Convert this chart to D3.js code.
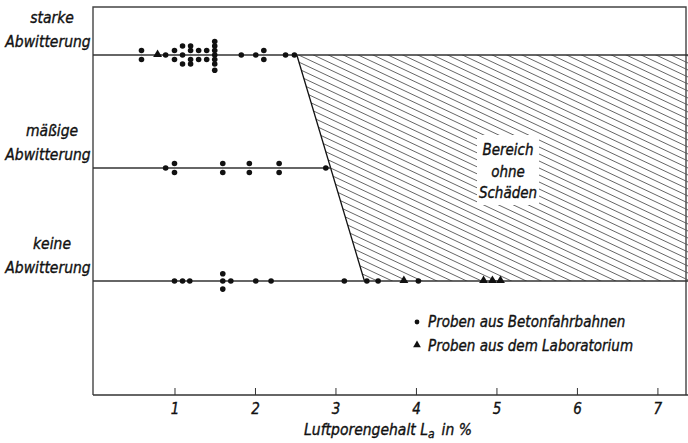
<!DOCTYPE html>
<html>
<head>
<meta charset="utf-8">
<script src="https://cdn.jsdelivr.net/npm/d3@7"></script>
<style>
  body { margin: 0; background: #fff; }
  text { font-family: "DejaVu Sans Condensed", Roboto, sans-serif; font-style: italic; fill: #111; stroke: #111; stroke-width: 0.35px; }
</style>
</head>
<body>
<div id="chart"></div>
<script>
// categories (top to bottom) and label lines
var categories = ["starke", "mäßige", "keine"];
var categoryLabels = [["starke", "Abwitterung"], ["mäßige", "Abwitterung"], ["keine", "Abwitterung"]];

// x ticks
var xTicks = [1, 2, 3, 4, 5, 6, 7];

// samples: [Luftporengehalt, stack levels] -- levels only spread equal values vertically
var starkeRoad = [
    [0.59, [-1, 1]], [0.89, [0]], [1.0, [-1, 1]], [1.1, [-2, 0, 2]],
    [1.2, [-2, -1, 1, 2]], [1.3, [-1, 1]], [1.4, [-1, 1]],
    [1.5, [-3, -2, -1, 0, 1, 2, 3.4]], [1.83, [0]], [2.01, [0]],
    [2.11, [-1, 1]], [2.38, [0]], [2.49, [0]]
];
var starkeLab = [[0.79, [0]]];

var maessigRoad = [
    [0.89, [0]], [1.0, [-1, 1]], [1.6, [-1, 1]], [1.93, [-1, 1]],
    [2.3, [-1, 1]], [2.88, [0]]
];
var maessigLab = [];

var keineRoad = [
    [1.0, [0]], [1.1, [0]], [1.19, [0]], [1.6, [-1.6, 0, 1.8]], [1.7, [0]],
    [2.01, [0]], [2.2, [0]], [3.11, [0]], [3.39, [0]], [3.53, [0]], [4.03, [0]]
];
var keineLab = [[3.85, [0]], [4.84, [0]], [4.95, [0]], [5.05, [0]]];

// boundary of the damage-free region: [x at "starke", x at "keine"]
var boundary = [2.52, 3.36];

var legendItems = ["Proben aus Betonfahrbahnen", "Proben aus dem Laboratorium"];

//-----------------------------------------------------------------------------
var W = 688, H = 443;
var frameTop = 7, frameBottom = 395, frameLeft = 93, frameRight = 686;
var levelStep = 4.5;
var ink = "#111";

var svg = d3.select("#chart").append("svg")
    .attr("width", W)
    .attr("height", H);

var x = d3.scaleLinear().domain([0, 7.38]).range([94, 688]);
var y = d3.scalePoint().domain(categories).range([55, 281]);

// frame
svg.append("path")
    .attr("d", "M" + frameLeft + "," + frameBottom + "V" + frameTop + "H" + frameRight + "V" + frameBottom)
    .attr("fill", "none")
    .attr("stroke", "#444")
    .attr("stroke-width", 1.4);

// bottom axis with short upward ticks
var xAxis = d3.axisBottom(x).tickValues(xTicks).tickSize(0).tickPadding(8)
    .tickFormat(d3.format("d"));
var gx = svg.append("g")
    .attr("transform", "translate(0," + frameBottom + ")")
    .call(xAxis);
gx.select(".domain").remove();
gx.append("line")
    .attr("x1", frameLeft).attr("x2", W)
    .attr("stroke", "#333").attr("stroke-width", 1.5);
gx.selectAll(".tick").append("line")
    .attr("y1", 0).attr("y2", -7)
    .attr("stroke", "#333").attr("stroke-width", 1);
gx.selectAll(".tick text")
    .attr("font-family", "DejaVu Sans Condensed, Roboto, sans-serif")
    .attr("font-style", "italic")
    .attr("font-size", 15)
    .attr("fill", ink);

// axis title with subscript
var title = svg.append("text")
    .attr("x", 388)
    .attr("y", 435)
    .attr("text-anchor", "middle")
    .attr("font-size", 15.5);
title.append("tspan").text("Luftporengehalt L");
title.append("tspan").attr("dy", 3).attr("font-size", 12).text("a");
title.append("tspan").attr("dy", -3).text("\u2002in %");

// hatched region (no damage)
var yTop = y("starke"), yBot = y("keine");
var region = [
    [x(boundary[0]), yTop], [W + 5, yTop], [W + 5, yBot], [x(boundary[1]), yBot]
];
svg.append("clipPath").attr("id", "regionClip")
    .append("polygon")
    .attr("points", region.map(function(p) { return p.join(","); }).join(" "));

var hatch = svg.append("g").attr("clip-path", "url(#regionClip)");
var slope = 0.47, gap = 7;
for (var c = yTop - slope * W - 20; c < yBot + 10; c += gap) {
    hatch.append("line")
        .attr("x1", 250).attr("y1", c + slope * 250)
        .attr("x2", W + 5).attr("y2", c + slope * (W + 5))
        .attr("stroke", "#555")
        .attr("stroke-width", 0.9);
}

// boundary line
svg.append("line")
    .attr("x1", x(boundary[0])).attr("y1", yTop)
    .attr("x2", x(boundary[1])).attr("y2", yBot)
    .attr("stroke", ink).attr("stroke-width", 1.3);

// label box inside the region
svg.append("rect")
    .attr("x", 477).attr("y", 135)
    .attr("width", 62).attr("height", 70)
    .attr("fill", "#fff");
var regionLabel = ["Bereich", "ohne", "Schäden"];
svg.selectAll(".regionLabel")
    .data(regionLabel).enter()
    .append("text")
    .attr("class", "regionLabel")
    .attr("x", 508)
    .attr("y", function(d, i) { return 155 + i * 21.5; })
    .attr("text-anchor", "middle")
    .attr("font-size", 15)
    .text(function(d) { return d; });

// category lines
var lineEnds = { "starke": W, "mäßige": (x(boundary[0]) + x(boundary[1])) / 2, "keine": W };
categories.forEach(function(cat) {
    svg.append("line")
        .attr("x1", frameLeft).attr("x2", lineEnds[cat])
        .attr("y1", y(cat)).attr("y2", y(cat))
        .attr("stroke", "#333").attr("stroke-width", 1.3);
});

// category labels
categories.forEach(function(cat, i) {
    var t = svg.append("text")
        .attr("x", 49)
        .attr("y", y(cat) - 32)
        .attr("text-anchor", "middle")
        .attr("font-size", 15.5);
    t.selectAll("tspan")
        .data(categoryLabels[i]).enter()
        .append("tspan")
        .attr("x", function(d, j) { return j == 0 ? 52 : 48; })
        .attr("dy", function(d, j) { return j == 0 ? 0 : 24; })
        .text(function(d) { return d; });
});

// flatten samples to points
function toPoints(cat, list) {
    var pts = [];
    list.forEach(function(s) {
        s[1].forEach(function(l) { pts.push({ cat: cat, v: s[0], level: l }); });
    });
    return pts;
}
var roadPts = toPoints("starke", starkeRoad)
    .concat(toPoints("mäßige", maessigRoad))
    .concat(toPoints("keine", keineRoad));
var labPts = toPoints("starke", starkeLab)
    .concat(toPoints("mäßige", maessigLab))
    .concat(toPoints("keine", keineLab));

svg.selectAll(".road")
    .data(roadPts).enter()
    .append("circle")
    .attr("class", "road")
    .attr("cx", function(d) { return x(d.v); })
    .attr("cy", function(d) { return y(d.cat) + d.level * levelStep; })
    .attr("r", 2.8)
    .attr("fill", ink);

var tri = d3.symbol().type(d3.symbolTriangle).size(34);
svg.selectAll(".lab")
    .data(labPts).enter()
    .append("path")
    .attr("class", "lab")
    .attr("d", tri)
    .attr("transform", function(d) {
        return "translate(" + x(d.v) + "," + (y(d.cat) + d.level * levelStep - 0.5) + ")";
    })
    .attr("fill", ink);

// legend
var legend = svg.append("g").attr("transform", "translate(417,326)");
legend.append("circle").attr("cx", 0).attr("cy", -4).attr("r", 2.4).attr("fill", ink);
legend.append("path").attr("d", d3.symbol().type(d3.symbolTriangle).size(26))
    .attr("transform", "translate(0,19)").attr("fill", ink);
legend.selectAll("text")
    .data(legendItems).enter()
    .append("text")
    .attr("x", 11)
    .attr("y", function(d, i) { return 1 + i * 24; })
    .attr("font-size", 15)
    .text(function(d) { return d; });
</script>
</body>
</html>
